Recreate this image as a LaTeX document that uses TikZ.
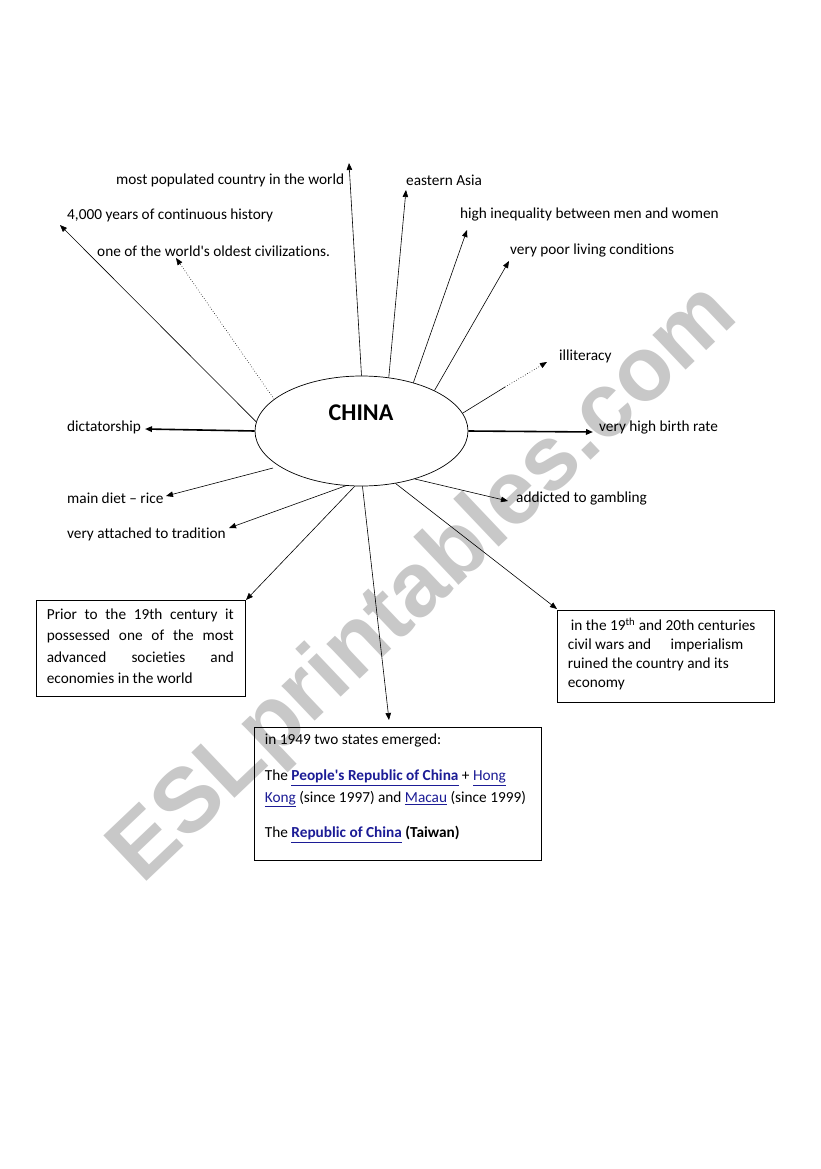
\documentclass[tikz,border=0pt]{standalone}
\usepackage{fontspec}
\newfontfamily\calibri{Carlito}[Ligatures=NoCommon]
\newfontfamily\markfont{Liberation Sans}
\usetikzlibrary{shapes.geometric}
\usetikzlibrary{arrows.meta}
\usepackage{xcolor}
\definecolor{linkblue}{RGB}{28,28,150}
\definecolor{markgray}{RGB}{200,200,200}

\begin{document}
\begin{tikzpicture}[x=1pt,y=-1pt,
    lbl/.style={anchor=west,inner sep=0pt,font=\calibri\fontsize{15.3}{18}\selectfont},
    spoke/.style={-{Triangle[length=7pt,width=5.5pt]},line width=0.6pt},
    thickspoke/.style={spoke,line width=1.6pt},
    boxed/.style={draw,line width=0.7pt,inner sep=0pt},
    boxtext/.style={anchor=north west,inner sep=0pt,align=left,font=\calibri\fontsize{15.3}{19}\selectfont}]
    \useasboundingbox (0,0) rectangle (821,1169);
    \fill[white] (0,0) rectangle (821,1169);

    % Watermark
    \node[rotate=43.5,text=markgray,font=\markfont\bfseries\fontsize{91}{91}\selectfont] (mark) at (425,585) {ESLprintables.com};

    % Centre
    \node[ellipse,draw,line width=0.7pt,minimum width=213,minimum height=110,inner sep=0pt] (china) at (361.5,431) {};
    \node[font=\calibri\bfseries\fontsize{24}{24}\selectfont] (chinaname) at (361,413) {CHINA};

    % Labels above
    \node[lbl] (pop) at (116,180) {most populated country in the world};
    \node[lbl] (asia) at (406,180) {eastern Asia};
    \node[lbl] (history) at (67,215) {4,000 years of continuous history};
    \node[lbl] (ineq) at (460,215) {high inequality between men and women};
    \node[lbl] (oldest) at (97,251) {one of the world's oldest civilizations.};
    \node[lbl] (poor) at (510,251) {very poor living conditions};
    \node[lbl] (illit) at (559,356) {illiteracy};

    % Labels at the sides
    \node[lbl] (dictator) at (67,427) {dictatorship};
    \node[lbl] (birth) at (599,427) {very high birth rate};
    \node[lbl] (rice) at (67,498) {main diet – rice};
    \node[lbl] (gamble) at (516,498) {addicted to gambling};
    \node[lbl] (tradition) at (67,534) {very attached to tradition};

    % Boxes
    \node[boxed,minimum width=209,minimum height=96] (leftbox) at (140.5,648) {};
    \node[boxtext,text width=187pt,align=justify,font=\calibri\fontsize{15.3}{21.5}\selectfont] (lefttext) at ([shift={(11,9)}]leftbox.north west)
        {Prior to the 19th century it\linebreak possessed one of the most\linebreak advanced societies and\linebreak economies in the world};
    \node[boxed,minimum width=217,minimum height=92] (rightbox) at (665.5,656) {};
    \node[boxtext] (righttext) at ([shift={(11,8)}]rightbox.north west)
        {\hspace{3pt}in the 19\textsuperscript{th} and 20th centuries\\
         civil wars and\hspace{16pt} imperialism\\
         ruined the country and its\\
         economy};
    \node[boxed,minimum width=287,minimum height=133] (bottombox) at (397.5,793.5) {};
    \node[boxtext,font=\calibri\fontsize{15.3}{21.5}\selectfont] (bottomtext) at ([shift={(11,7)}]bottombox.north west)
        {in 1949 two states emerged:\\[15pt]
         The \textcolor{linkblue}{\underline{\textbf{People's Republic of China}}} + \textcolor{linkblue}{\underline{Hong}}\\
         \textcolor{linkblue}{\underline{Kong}} (since 1997) and \textcolor{linkblue}{\underline{Macau}} (since 1999)\\[14pt]
         The \textcolor{linkblue}{\underline{\textbf{Republic of China}}} \textbf{(Taiwan)}};

    % Arrow tips
    \coordinate (tipPop) at (349,163);
    \coordinate (tipAsia) at (406,190);
    \coordinate (tipHistory) at (60,225);
    \coordinate (tipIneq) at (467,230);
    \coordinate (tipOldest) at (176,258);
    \coordinate (tipPoor) at (509,261);
    \coordinate (midIllit) at (505,387);
    \coordinate (tipIllit) at (547,362);
    \coordinate (tipDictator) at (145,429);
    \coordinate (tipBirth) at (593,432);
    \coordinate (riceStart) at (273,468);
    \coordinate (tipRice) at (166,496);
    \coordinate (tipGamble) at (508,501);
    \coordinate (tipTradition) at (229,528);
    \coordinate (tipLeft) at (246,600);
    \coordinate (tipRight) at (557,609);
    \coordinate (tipBottom) at (389,720);

    % Spokes
    \draw[spoke] (china.90) -- (tipPop);
    \draw[spoke] (china.63) -- (tipAsia);
    \draw[spoke] (china.43) -- (tipIneq);
    \draw[spoke] (china.29) -- (tipPoor);
    \draw[line width=0.6pt] (china.10) -- (midIllit);
    \draw[spoke,dotted] (midIllit) -- (tipIllit);
    \draw[thickspoke] (china.0) -- (tipBirth);
    \draw[spoke] (china.-42) -- (tipGamble);
    \draw[spoke] (china.-57) -- (tipRight);
    \draw[spoke] (china.-89) -- (tipBottom);
    \draw[spoke] (china.-97) -- (tipLeft);
    \draw[spoke] (china.-106) -- (tipTradition);
    \draw[spoke] (riceStart) -- (tipRice);
    \draw[thickspoke] (china.180) -- (tipDictator);
    \draw[spoke] (china.175) -- (tipHistory);
    \draw[spoke,dotted] (china.160) -- (tipOldest);
\end{tikzpicture}
\end{document}
